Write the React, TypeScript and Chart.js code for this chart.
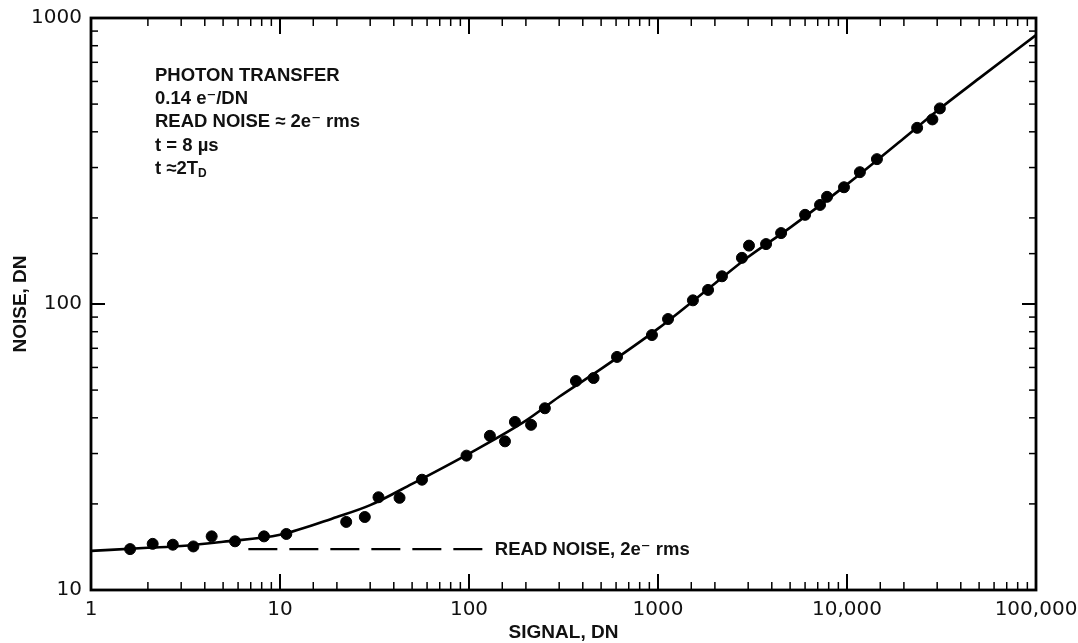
import React, { useEffect, useRef } from 'react';
import { Chart, registerables } from 'chart.js';

Chart.register(...registerables);

// Measured points (signal DN, noise DN)
const SIGNAL = [
  1.61, 2.12, 2.71, 3.48, 4.35, 5.78, 8.23, 10.8, 22.4, 28.1,
  33.2, 42.9, 56.4, 97, 129, 155, 175, 213, 252, 368,
  456, 607, 929, 1130, 1530, 1840, 2180, 2780, 3030, 3730,
  4480, 6000, 7200, 7840, 9640, 11700, 14400, 23500, 28300, 31000,
];
const NOISE = [
  13.9, 14.5, 14.4, 14.2, 15.4, 14.8, 15.4, 15.7, 17.3, 18.0,
  21.1, 21.0, 24.3, 29.5, 34.6, 33.1, 38.7, 37.8, 43.2, 53.8,
  55.1, 65.3, 77.9, 88.6, 103, 112, 125, 145, 160, 162,
  177, 205, 222, 237, 256, 289, 321, 413, 442, 483,
];

// Photon transfer curve
const CURVE_SIGNAL = [1, 2, 3, 5, 10, 20, 30, 50, 100, 200, 300, 500, 1000, 2000, 3000, 5000, 10000, 20000, 30000, 50000, 100000];
const CURVE_NOISE = [13.7, 14.05, 14.25, 14.75, 15.6, 18.0, 19.8, 23.5, 30.0, 39.1, 47.4, 59.3, 82, 118, 146, 185, 262, 380, 474, 615, 872];

// Read-noise floor (dashed)
const READ_SIGNAL = [6.8, 120];
const READ_NOISE = [13.9, 13.9];
const READ_LABEL = 'READ NOISE, 2e\u207B rms';
const READ_LABEL_SIGNAL = 137;

const X_MAJOR = [1, 10, 100, 1000, 10000, 100000];
const X_LABELS = ['1', '10', '100', '1000', '10,000', '100,000'];
const Y_MAJOR = [10, 100, 1000];
const Y_LABELS = ['10', '100', '1000'];

type Run = { t: string; sub?: boolean };
const NOTE_LINES: Run[][] = [
  [{ t: 'PHOTON TRANSFER' }],
  [{ t: '0.14 e\u207B/DN' }],
  [{ t: 'READ NOISE \u2248 2e\u207B rms' }],
  [{ t: 't = 8 \u00B5s' }],
  [{ t: 't \u22482T' }, { t: 'D', sub: true }],
];

const SANS = "'Liberation Sans', 'DejaVu Sans', Arial, sans-serif";
const TICK_FONT = "'DejaVu Sans', sans-serif";

function labelFor(v: number, majors: number[], labels: string[]) {
  const i = majors.findIndex((m) => Math.abs(m - v) / m < 1e-6);
  return i >= 0 ? labels[i] : '';
}
function isDecade(v: number) {
  const l = Math.log10(v);
  return Math.abs(l - Math.round(l)) < 1e-6;
}

const framePlugin = {
  id: 'frameTicks',
  afterDraw(chart: any) {
    const { ctx, chartArea, scales } = chart;
    const { left, right, top, bottom } = chartArea;
    const x = scales.x;
    const y = scales.y;
    ctx.save();
    ctx.strokeStyle = '#000';
    ctx.lineCap = 'butt';
    const line = (x1: number, y1: number, x2: number, y2: number) => {
      ctx.beginPath();
      ctx.moveTo(x1, y1);
      ctx.lineTo(x2, y2);
      ctx.stroke();
    };
    x.ticks.forEach((t: any) => {
      const px = x.getPixelForValue(t.value);
      if (px <= left + 1 || px >= right - 1) return;
      const major = isDecade(t.value);
      ctx.lineWidth = major ? 2 : 1.5;
      const len = major ? 16 : 8;
      line(px, bottom, px, bottom - len);
      line(px, top, px, top + len);
    });
    y.ticks.forEach((t: any) => {
      const py = y.getPixelForValue(t.value);
      if (py <= top + 1 || py >= bottom - 1) return;
      const major = isDecade(t.value);
      ctx.lineWidth = major ? 2 : 1.5;
      const len = major ? 14 : 7;
      line(left, py, left + len, py);
      line(right, py, right - len, py);
    });
    ctx.lineWidth = 2.8;
    ctx.strokeRect(left, top, right - left, bottom - top);

    // Notes
    ctx.fillStyle = '#111';
    ctx.textBaseline = 'middle';
    ctx.textAlign = 'left';
    const size = 18.5;
    const nx = left + 64;
    NOTE_LINES.forEach((runs, i) => {
      let cx = nx;
      const cy = top + 58 + i * 23.2;
      runs.forEach((r) => {
        const s = r.sub ? 12 : size;
        ctx.font = `bold ${s}px ${SANS}`;
        ctx.fillText(r.t, cx, r.sub ? cy + 5 : cy);
        cx += ctx.measureText(r.t).width;
      });
    });

    // Read-noise label
    ctx.font = `bold ${size}px ${SANS}`;
    ctx.fillText(READ_LABEL, x.getPixelForValue(READ_LABEL_SIGNAL), y.getPixelForValue(READ_NOISE[0]) + 1);
    ctx.restore();
  },
};

export default function App() {
  const ref = useRef<HTMLCanvasElement | null>(null);
  useEffect(() => {
    if (!ref.current) return;
    const chart = new Chart(ref.current, {
      type: 'line',
      data: {
        datasets: [
          {
            type: 'scatter',
            label: 'Measured',
            data: SIGNAL.map((s, i) => ({ x: s, y: NOISE[i] })),
            backgroundColor: '#000',
            borderColor: '#000',
            pointRadius: 5.5,
            pointHoverRadius: 5.5,
            order: 0,
          } as any,
          {
            label: 'Photon transfer',
            data: CURVE_SIGNAL.map((s, i) => ({ x: s, y: CURVE_NOISE[i] })),
            borderColor: '#000',
            borderWidth: 2.6,
            pointRadius: 0,
            cubicInterpolationMode: 'monotone',
            fill: false,
            order: 1,
          },
          {
            label: 'Read noise',
            data: READ_SIGNAL.map((s, i) => ({ x: s, y: READ_NOISE[i] })),
            borderColor: '#000',
            borderWidth: 2.4,
            borderDash: [29, 12],
            pointRadius: 0,
            fill: false,
            order: 2,
          },
        ],
      },
      options: {
        animation: false,
        responsive: false,
        devicePixelRatio: 1,
        layout: { padding: { left: 0, top: 18, right: 42, bottom: 0 } },
        plugins: { legend: { display: false }, tooltip: { enabled: false } },
        events: [],
        scales: {
          x: {
            type: 'logarithmic',
            min: 1,
            max: 100000,
            grid: { display: false, drawTicks: false },
            border: { display: false },
            ticks: {
              autoSkip: false,
              maxRotation: 0,
              padding: 8,
              color: '#111',
              font: { family: TICK_FONT, size: 20 },
              callback: (v: any) => labelFor(Number(v), X_MAJOR, X_LABELS),
            },
            title: {
              display: true,
              text: 'SIGNAL, DN',
              color: '#111',
              font: { family: SANS, size: 19, weight: 'bold', lineHeight: 1 },
              padding: { top: 0, bottom: 1 },
            },
            afterFit: (s: any) => {
              s.height = 53;
              s.paddingLeft = 0;
              s.paddingRight = 0;
            },
          },
          y: {
            type: 'logarithmic',
            min: 10,
            max: 1000,
            grid: { display: false, drawTicks: false },
            border: { display: false },
            ticks: {
              autoSkip: false,
              padding: 9,
              color: '#111',
              font: { family: TICK_FONT, size: 20 },
              callback: (v: any) => labelFor(Number(v), Y_MAJOR, Y_LABELS),
            },
            title: {
              display: true,
              text: 'NOISE, DN',
              color: '#111',
              font: { family: SANS, size: 19, weight: 'bold', lineHeight: 1 },
              padding: { top: 11, bottom: 0 },
            },
            afterFit: (s: any) => {
              s.width = 91;
              s.paddingTop = 0;
              s.paddingBottom = 0;
            },
          },
        },
      } as any,
      plugins: [framePlugin],
    });
    return () => chart.destroy();
  }, []);
  return (
    <div style={{ position: 'absolute', left: 0, top: 0, width: 1078, height: 643, background: '#fff' }}>
      <canvas ref={ref} width={1078} height={643} style={{ width: 1078, height: 643, display: 'block' }} />
    </div>
  );
}
